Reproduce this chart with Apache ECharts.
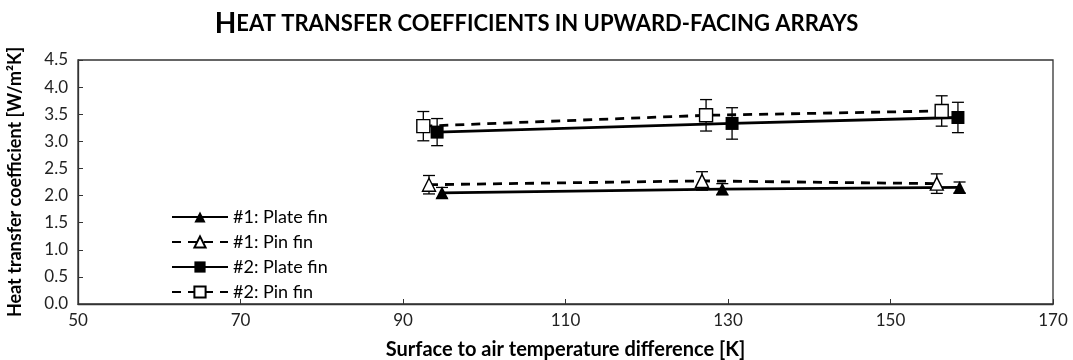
<!DOCTYPE html>
<html>
<head>
<meta charset="utf-8">
<script src="https://cdn.jsdelivr.net/npm/echarts@6/dist/echarts.min.js"></script>
<style>
  html, body { margin: 0; padding: 0; background: #fff; }
  #chart { width: 1073px; height: 360px; }
</style>
</head>
<body>
<div id="chart"></div>
<script>
// 图中读取的数据
const seriesNames = ['#1: Plate fin', '#1: Pin fin', '#2: Plate fin', '#2: Pin fin'];

const plate1X = [94.8, 129.3, 158.5];
const plate1Y = [2.05, 2.12, 2.15];
const plate1Err = [0.10, 0.10, 0.10];

const pin1X = [93.2, 126.8, 155.7];
const pin1Y = [2.20, 2.27, 2.22];
const pin1Err = [0.17, 0.17, 0.18];

const plate2X = [94.2, 130.5, 158.3];
const plate2Y = [3.17, 3.33, 3.44];
const plate2Err = [0.25, 0.29, 0.28];

const pin2X = [92.5, 127.3, 156.3];
const pin2Y = [3.28, 3.48, 3.56];
const pin2Err = [0.27, 0.29, 0.28];

const FONT = 'Lato, "Open Sans", sans-serif';

function pairs(xs, ys) {
    return xs.map((x, i) => [x, ys[i]]);
}

function errData(xs, ys, es) {
    return xs.map((x, i) => [x, ys[i] - es[i], ys[i] + es[i]]);
}

// 误差线（带端帽）
function errorSeries(data) {
    return {
        type: 'custom',
        z: 1,
        silent: true,
        data: data,
        renderItem: function(params, api) {
            const lo = api.coord([api.value(0), api.value(1)]);
            const hi = api.coord([api.value(0), api.value(2)]);
            const cap = 6;
            const style = { stroke: '#000', lineWidth: 1.3 };
            return {
                type: 'group',
                children: [
                    { type: 'line', shape: { x1: lo[0], y1: lo[1], x2: hi[0], y2: hi[1] }, style: style },
                    { type: 'line', shape: { x1: lo[0] - cap, y1: lo[1], x2: lo[0] + cap, y2: lo[1] }, style: style },
                    { type: 'line', shape: { x1: hi[0] - cap, y1: hi[1], x2: hi[0] + cap, y2: hi[1] }, style: style }
                ]
            };
        }
    };
}

function lineSeries(name, data, symbol, filled, dashed) {
    return {
        name: name,
        type: 'line',
        z: 3,
        data: data,
        symbol: symbol,
        symbolSize: 13,
        lineStyle: {
            color: '#000',
            width: 2.8,
            type: dashed ? [9, 7] : 'solid'
        },
        itemStyle: {
            color: filled ? '#000' : '#fff',
            borderColor: '#000',
            borderWidth: filled ? 0 : 1.4
        },
        emphasis: { disabled: true }
    };
}

const chart = echarts.init(document.getElementById('chart'));
const option = {
    backgroundColor: '#fff',
    animation: false,
    title: {
        text: '{big|H}{small|EAT TRANSFER COEFFICIENTS IN UPWARD-FACING ARRAYS}',
        left: 'center',
        top: 5,
        textStyle: {
            rich: {
                big: { fontFamily: FONT, fontSize: 28, fontWeight: 'bold', color: '#000' },
                small: { fontFamily: FONT, fontSize: 22, fontWeight: 'bold', color: '#000' }
            }
        }
    },
    legend: {
        orient: 'vertical',
        left: 166,
        top: 203,
        itemWidth: 56,
        itemHeight: 14,
        itemGap: 7,
        data: seriesNames,
        textStyle: { fontFamily: FONT, fontSize: 18, lineHeight: 18, color: '#000' }
    },
    grid: {
        left: 78,
        right: 20,
        top: 60,
        bottom: 56,
        outerBoundsMode: 'none',
        containLabel: false,
        show: true,
        borderColor: '#333',
        borderWidth: 1.3
    },
    xAxis: {
        type: 'value',
        min: 50,
        max: 170,
        interval: 20,
        name: 'Surface to air temperature difference [K]',
        nameLocation: 'middle',
        nameGap: 36,
        nameTextStyle: { fontFamily: FONT, fontSize: 20, fontWeight: 'bold', color: '#000' },
        axisLine: { lineStyle: { color: '#333', width: 1.3 } },
        axisTick: { inside: true, length: 5, lineStyle: { color: '#333' } },
        axisLabel: { fontFamily: FONT, fontSize: 17, color: '#222', margin: 8 },
        splitLine: { show: false }
    },
    yAxis: {
        type: 'value',
        min: 0,
        max: 4.5,
        interval: 0.5,
        name: 'Heat transfer coefficient [W/m²K]',
        nameLocation: 'middle',
        nameGap: 54,
        nameTextStyle: { fontFamily: FONT, fontSize: 18, fontWeight: 'bold', color: '#000' },
        axisLine: { show: true, lineStyle: { color: '#333', width: 1.3 } },
        axisTick: { show: true, inside: true, length: 5, lineStyle: { color: '#333' } },
        axisLabel: {
            fontFamily: FONT, fontSize: 17, color: '#222', margin: 10,
            formatter: v => v.toFixed(1)
        },
        splitLine: { show: false }
    },
    series: [
        errorSeries(errData(plate1X, plate1Y, plate1Err)),
        errorSeries(errData(pin1X, pin1Y, pin1Err)),
        errorSeries(errData(plate2X, plate2Y, plate2Err)),
        errorSeries(errData(pin2X, pin2Y, pin2Err)),
        lineSeries(seriesNames[0], pairs(plate1X, plate1Y), 'triangle', true, false),
        lineSeries(seriesNames[1], pairs(pin1X, pin1Y), 'triangle', false, true),
        lineSeries(seriesNames[2], pairs(plate2X, plate2Y), 'rect', true, false),
        lineSeries(seriesNames[3], pairs(pin2X, pin2Y), 'rect', false, true)
    ]
};
chart.setOption(option);
</script>
</body>
</html>
